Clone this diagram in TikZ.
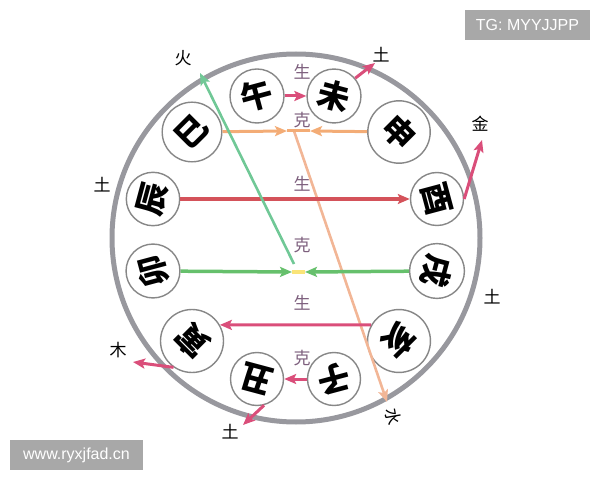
\documentclass[tikz,border=0pt]{standalone}
\usepackage{fontspec}
\newfontfamily\cjk{Noto Sans CJK SC}
\newfontfamily\wmfont{Liberation Sans}
\usetikzlibrary{arrows.meta}
\definecolor{ringgray}{RGB}{152,152,158}
\definecolor{cellgray}{RGB}{135,135,135}
\definecolor{relpurple}{RGB}{125,95,125}
\definecolor{shengpink}{RGB}{218,78,122}
\definecolor{chenred}{RGB}{212,82,90}
\definecolor{keorange}{RGB}{243,172,118}
\definecolor{hepeach}{RGB}{242,182,150}
\definecolor{kegreen}{RGB}{102,192,108}
\definecolor{huoteal}{RGB}{112,200,150}
\definecolor{keyellow}{RGB}{250,228,120}
\definecolor{wmgray}{RGB}{168,168,168}
\newcommand\zhi[2]{\rotatebox[origin=c]{#1}{#2}}
\begin{document}
\begin{tikzpicture}[x=1pt,y=1pt,
    branch/.style={circle,draw=cellgray,line width=1.4pt,fill=white,minimum size=53pt,inner sep=0pt,
      font=\cjk\bfseries\fontsize{32}{32}\selectfont},
    rel/.style={text=relpurple,font=\cjk\fontsize{17}{17}\selectfont},
    elem/.style={font=\cjk\fontsize{17}{17}\selectfont},
    tip/.style={-{Stealth[length=12pt,width=10pt,inset=2.5pt]}},
    wm/.style={fill=wmgray,text=white,font=\wmfont\fontsize{16}{16}\selectfont,minimum height=30pt,inner sep=0pt}]
  \useasboundingbox (0,0) rectangle (600,480);
  \draw[ringgray,line width=5pt] (296,242) circle[radius=184];

  % twelve branches
  \node[branch] (wu) at (257,384) {\zhi{15}{午}};
  \node[branch] (wei) at (334,384) {\zhi{-15}{未}};
  \node[branch] (shen) at (399,348) {\zhi{-45}{申}};
  \node[branch] (you) at (437,281) {\zhi{-75}{酉}};
  \node[branch] (xu) at (437,209) {\zhi{-105}{戌}};
  \node[branch] (hai) at (399,139) {\zhi{-135}{亥}};
  \node[branch] (zi) at (334,101) {\zhi{-165}{子}};
  \node[branch] (chou) at (257,101) {\zhi{165}{丑}};
  \node[branch] (yin) at (192,139) {\zhi{135}{寅}};
  \node[branch] (mao) at (153,209) {\zhi{105}{卯}};
  \node[branch] (chen) at (153,281) {\zhi{75}{辰}};
  \node[branch] (si) at (192,348) {\zhi{45}{巳}};

  % relation labels
  \node[rel] (sheng1) at (302,408) {生};
  \node[rel] (ke1) at (302,360) {克};
  \node[rel] (sheng2) at (302,296) {生};
  \node[rel] (ke2) at (302,235) {克};
  \node[rel] (sheng3) at (302,177) {生};
  \node[rel] (ke3) at (302,122) {克};

  % element labels
  \node[elem] (tuwei) at (381,425) {土};
  \node[elem] (jin) at (480,356) {金};
  \node[elem] (tuxu) at (492,183) {土};
  \node[elem] (shui) at (393,63) {\zhi{-80}{水}};
  \node[elem] (tuchou) at (230,48) {土};
  \node[elem] (mu) at (118,130) {木};
  \node[elem] (tuchen) at (102,295) {土};
  \node[elem] (huo) at (183,422) {火};

  \coordinate (kesi) at (287,349);
  \coordinate (keshen) at (310,349);
  \coordinate (hestart) at (294,349);
  \coordinate (shuitip) at (387,78);
  \coordinate (kemao) at (292,208);
  \coordinate (kexu) at (305,208);
  \coordinate (kemid) at (294,216);
  \coordinate (huotip) at (200,407);
  \coordinate (weitip) at (375,417);
  \coordinate (jintip) at (482,340);
  \coordinate (mutip) at (133,118);
  \coordinate (choutip) at (243,55);

  % connectors
  \draw[shengpink,line width=3pt,tip] (wu) -- (wei);
  \draw[hepeach,line width=2.6pt,tip] (hestart) -- (shuitip);
  \draw[keorange,line width=3pt,tip] (si) -- (kesi);
  \draw[keorange,line width=3pt,tip] (shen) -- (keshen);
  \draw[keorange,line width=3pt] (kesi) -- (keshen);
  \draw[chenred,line width=3.5pt,tip] (chen) -- (you);
  \draw[huoteal,line width=2.6pt,tip] (kemid) -- (huotip);
  \draw[keyellow,line width=3.5pt] (kemao) -- (kexu);
  \draw[kegreen,line width=3.5pt,tip] (mao) -- (kemao);
  \draw[kegreen,line width=3.5pt,tip] (xu) -- (kexu);
  \draw[shengpink,line width=3pt,tip] (hai.150) -- (yin.30);
  \draw[shengpink,line width=3pt,tip] (zi) -- (chou);
  \draw[shengpink,line width=3pt,tip] (wei.40) -- (weitip);
  \draw[shengpink,line width=3pt,tip] (you.east) -- (jintip);
  \draw[shengpink,line width=3pt,tip] (yin.235) -- (mutip);
  \draw[shengpink,line width=3pt,tip] (chou.-75) -- (choutip);

  % watermarks
  \node[wm,minimum width=125pt] (tg) at (527.5,455) {TG: MYYJJPP};
  \node[wm,minimum width=133pt] (site) at (76.5,25) {www.ryxjfad.cn};
\end{tikzpicture}
\end{document}
